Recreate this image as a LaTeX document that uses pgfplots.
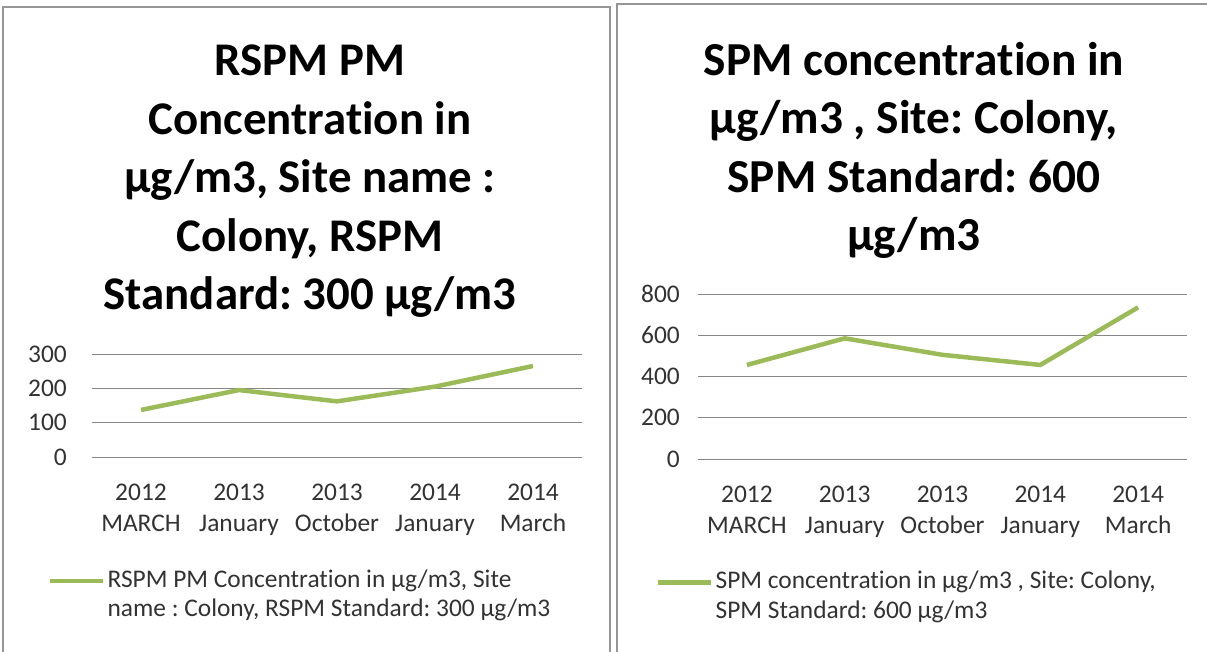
\documentclass[border=0pt]{standalone}
\usepackage{fontspec}
\setmainfont[Ligatures={NoCommon}]{Carlito}
\usepackage{pgfplots}
\pgfplotsset{compat=1.18}
\definecolor{exgreen}{RGB}{155,187,89}
\definecolor{gridgray}{RGB}{134,134,134}
\definecolor{panelgray}{RGB}{150,150,150}
\definecolor{txtgray}{RGB}{50,50,50}
\frenchspacing

\pgfplotsset{panel/.style={
  scale only axis,
  xmin=-0.5, xmax=4.5, ymin=0,
  xtick={0,1,2,3,4},
  xticklabels={{2012\\MARCH},{2013\\January},{2013\\October},{2014\\January},{2014\\March}},
  ymajorgrids, grid style={gridgray, line width=0.9bp},
  axis line style={draw=none}, major tick length=0pt,
  /pgf/number format/assume math mode=true,
  tick label style={font=\fontsize{25.5}{31}\selectfont, text=txtgray},
  xticklabel style={align=center, inner sep=0pt, anchor=north, yshift=-27bp},
  yticklabel style={anchor=east, inner sep=0pt},
  legend style={draw=none, fill=none, inner sep=0pt, anchor=north west,
    font=\fontsize{25.5}{30}\selectfont, text=txtgray, cells={align=left},
    nodes={inner sep=2bp}},
  legend cell align=left,
  legend image code/.code={\draw[exgreen, line width=4.5bp] (0bp,13bp) -- (53bp,13bp);},
}}

\begin{document}
\begin{tikzpicture}[x=1bp,y=1bp]
\useasboundingbox (0,0) rectangle (1207,652);
\draw[panelgray, line width=2bp] (3,-10) -- (3,645) -- (610,645) -- (610,-10);
\draw[panelgray, line width=2bp] (617,-10) -- (617,648) -- (1215,648);

\node[anchor=north, align=center, inner sep=0pt, font=\fontsize{47}{58.6}\selectfont\bfseries]
  at (310,607) {RSPM PM\\Concentration in\\µg/m3, Site name :\\Colony, RSPM\\Standard: 300 µg/m3};
\node[anchor=north, align=center, inner sep=0pt, font=\fontsize{47.5}{58.6}\selectfont\bfseries]
  at (914,610) {SPM concentration in\\µg/m3 , Site: Colony,\\SPM Standard: 600\\µg/m3};

\begin{axis}[panel, at={(92bp,195bp)}, anchor=south west, width=490bp, height=103bp,
  ymax=300, ytick={0,100,200,300},
  yticklabel style={xshift=-25bp},
  legend style={at={(-0.09,-1.07)}}]
\addplot[exgreen, line width=4.5bp] coordinates {(0,137) (1,195) (2,162) (3,205) (4,265)};
\addlegendentry{RSPM PM Concentration in µg/m3, Site\\name : Colony, RSPM Standard: 300 µg/m3}
\end{axis}

\begin{axis}[panel, at={(698bp,193bp)}, anchor=south west, width=489bp, height=165bp,
  ymax=800, ytick={0,200,400,600,800},
  yticklabel style={xshift=-18bp},
  legend style={at={(-0.086,-0.665)}}]
\addplot[exgreen, line width=4.5bp] coordinates {(0,456) (1,585) (2,505) (3,456) (4,735)};
\addlegendentry{SPM concentration in µg/m3 , Site: Colony,\\SPM Standard: 600 µg/m3}
\end{axis}
\end{tikzpicture}
\end{document}
